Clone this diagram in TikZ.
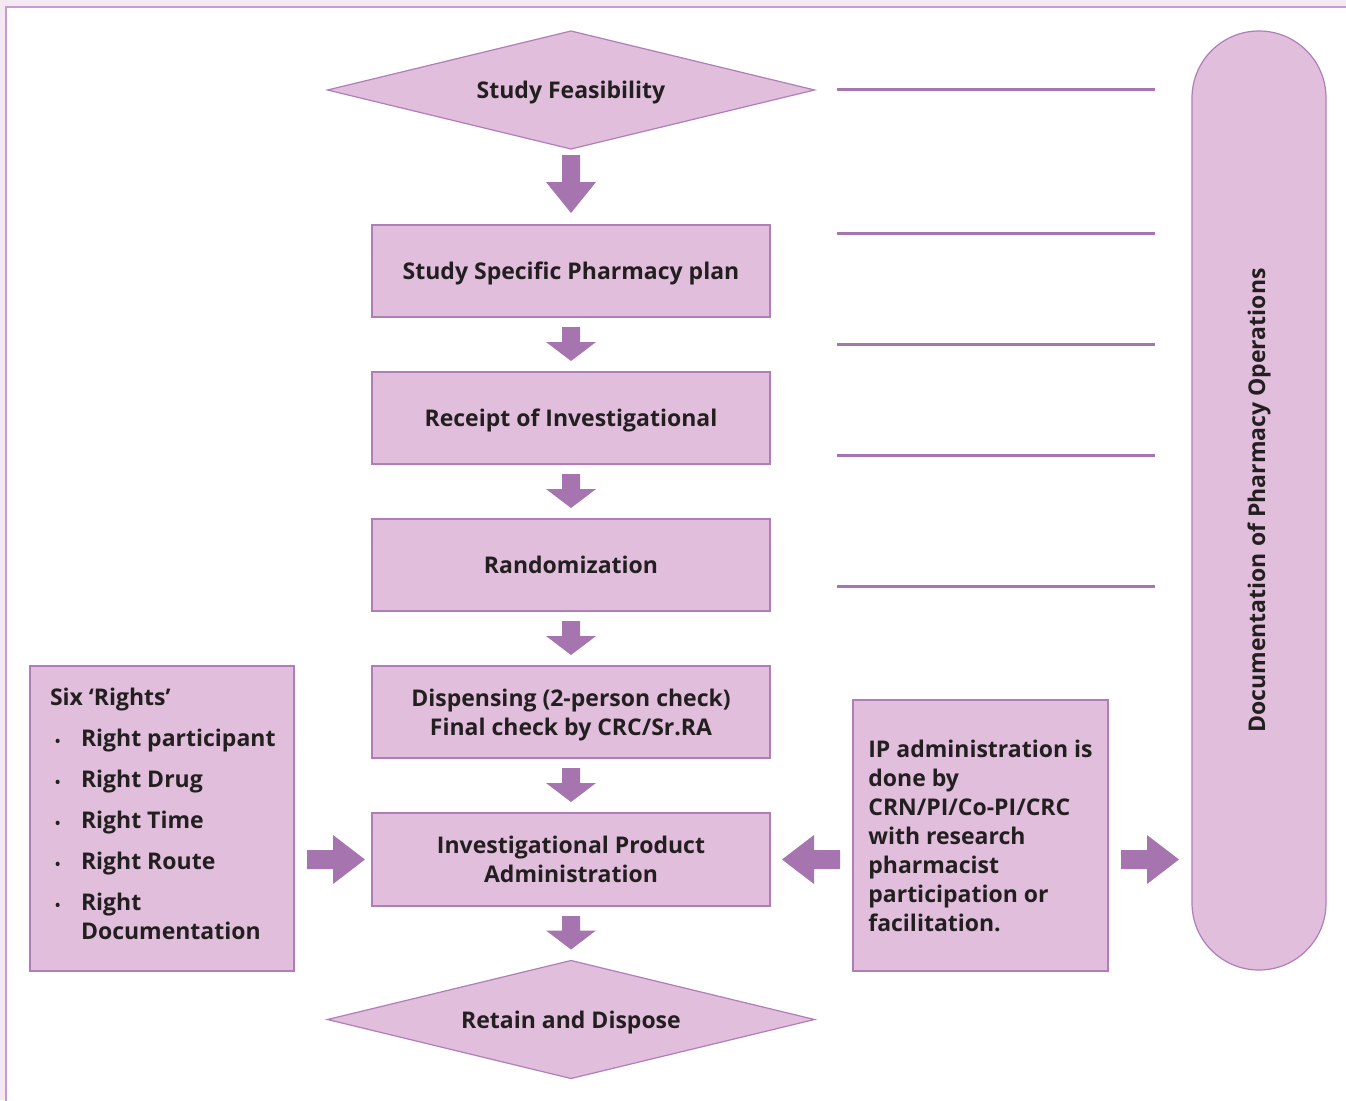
\documentclass[tikz,border=0pt]{standalone}
\usepackage{fontspec}
\setmainfont{Open Sans}
\usetikzlibrary{shapes.geometric,calc}
\definecolor{boxfill}{HTML}{E1BFDC}
\definecolor{boxline}{HTML}{B07DB9}
\definecolor{arrowfill}{HTML}{A674AF}
\definecolor{pagebg}{HTML}{F4E8F2}
\definecolor{framec}{HTML}{C49DCC}
\definecolor{txt}{HTML}{231F20}
\newcommand{\vblock}[5]{\fill[arrowfill] ($(#1.south)+(-9,#3)$) -- ($(#2.north)+(-9,-#4-#5)$) -- ($(#2.north)+(-25,-#4-#5)$) -- ($(#2.north)+(0,-#4)$) -- ($(#2.north)+(25,-#4-#5)$) -- ($(#2.north)+(9,-#4-#5)$) -- ($(#1.south)+(9,#3)$) -- cycle;}
\newcommand{\rblock}[2]{\fill[arrowfill] ($(#1)+(0,-9.5)$) -- ($(#2)+(-32,-9.5)$) -- ($(#2)+(-32,-24.5)$) -- (#2) -- ($(#2)+(-32,24.5)$) -- ($(#2)+(-32,9.5)$) -- ($(#1)+(0,9.5)$) -- cycle;}
\newcommand{\lblock}[2]{\fill[arrowfill] ($(#1)+(0,-9.5)$) -- ($(#2)+(32,-9.5)$) -- ($(#2)+(32,-24.5)$) -- (#2) -- ($(#2)+(32,24.5)$) -- ($(#2)+(32,9.5)$) -- ($(#1)+(0,9.5)$) -- cycle;}
\newcommand{\rbul}{\makebox[31pt][l]{\hspace*{5pt}{\fontsize{14}{14}\selectfont\textbullet}}}
\begin{document}
\begin{tikzpicture}[x=1pt,y=-1pt,
  every node/.style={font=\bfseries\fontsize{23}{29}\selectfont, text=txt, outer sep=0, inner sep=0},
  stepbox/.style={rectangle, draw=boxline, fill=boxfill, line width=1.2, minimum width=398, minimum height=92, align=center, text depth=0pt},
  decision/.style={diamond, aspect=4.13, draw=boxline, fill=boxfill, line width=1.2, minimum width=487, minimum height=118, text depth=0pt},
  sidebox/.style={rectangle, draw=boxline, fill=boxfill, line width=1.2},
  guide/.style={draw=arrowfill, line width=3}]
\useasboundingbox (0,0) rectangle (1346,1100);
\fill[pagebg] (0,0) rectangle (1346,1100);
\filldraw[fill=white, draw=framec, line width=2] (6,7) rectangle (1360,1115);
% main flow
\node[decision] (feas) at (571,90) {Study Feasibility};
\node[stepbox] (plan) at (571,271) {Study Specific Pharmacy plan};
\node[stepbox] (receipt) at (571,418) {Receipt of Investigational};
\node[stepbox] (rand) at (571,565) {Randomization};
\node[stepbox] (disp) at (571,712) {Dispensing (2-person check)\\Final check by CRC/Sr.RA};
\node[stepbox, minimum height=93] (ipa) at (571,859.5) {Investigational Product\\Administration};
\node[decision] (retain) at (571,1019.5) {Retain and Dispose};
% side boxes
\node[sidebox, minimum width=264, minimum height=305] (six) at (162,818.5) {};
\node[anchor=north west, align=left] (sixtext) at (50,688) {Six ‘Rights’\\[12pt]
\rbul Right participant\\[12pt]
\rbul Right Drug\\[12pt]
\rbul Right Time\\[12pt]
\rbul Right Route\\[12pt]
\rbul Right\\
\hspace*{31pt}Documentation};
\node[sidebox, minimum width=255, minimum height=271, align=left] (ipbox) at (980.5,835.5) {IP administration is\\done by\\CRN/PI/Co-PI/CRC\\with research\\pharmacist\\participation or\\facilitation.};
\node[sidebox, rotate=90, minimum width=939, minimum height=134, rounded corners=66.9] (doc) at (1259,500.5) {Documentation of Pharmacy Operations};
% guide lines
\foreach \yy in {89,233,344,455,586} \draw[guide] (837,\yy) -- (1155,\yy);
% block arrows
\vblock{feas}{plan}{6}{12}{31}
\vblock{plan}{receipt}{10}{11}{19}
\vblock{receipt}{rand}{10}{11}{19}
\vblock{rand}{disp}{10}{11}{19}
\vblock{disp}{ipa}{10}{11}{19}
\vblock{ipa}{retain}{10}{11}{19}
\rblock{$(six.east |- ipa.west)+(13,0)$}{$(ipa.west)+(-7,0)$}
\lblock{$(ipbox.west |- ipa.east)+(-13,0)$}{$(ipa.east)+(12,0)$}
\rblock{$(ipbox.east |- ipa.east)+(13,0)$}{$(doc.north |- ipa.east)+(-13,0)$}
\end{tikzpicture}
\end{document}
